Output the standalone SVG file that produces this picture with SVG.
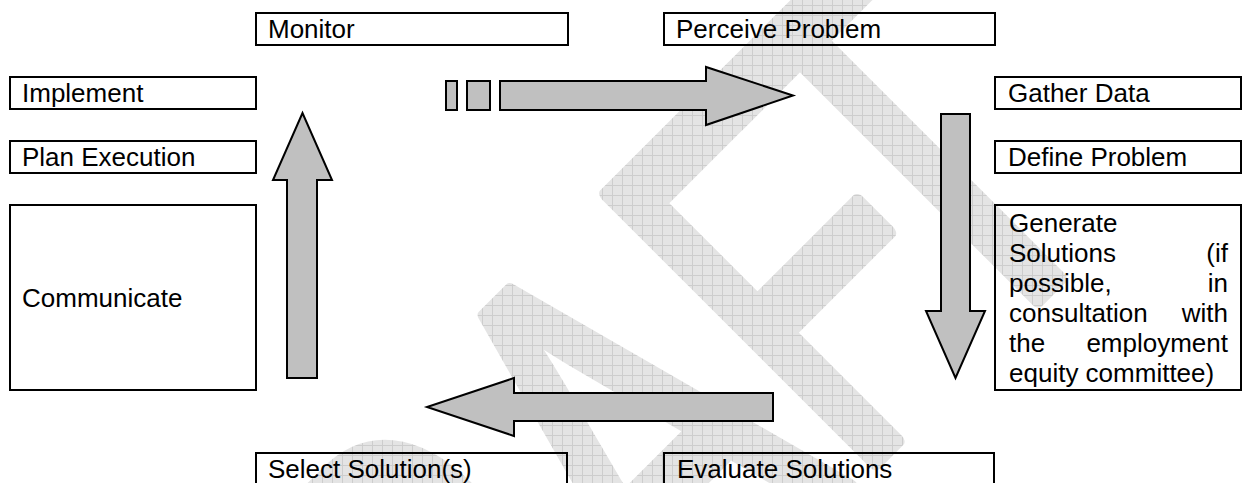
<svg xmlns="http://www.w3.org/2000/svg" width="1243" height="483" viewBox="0 0 1243 483">
  <style>
    .box { fill: none; stroke: #000; stroke-width: 2; }
    .lbl { font-family: "Liberation Sans", Arial, sans-serif; font-size: 26px; fill: #000; }
    .arr { fill: #c0c0c0; stroke: #000; stroke-width: 2; stroke-linejoin: miter; }
    .wm { font-family: "Liberation Sans", Arial, sans-serif; font-size: 550px; fill: url(#grid); stroke: url(#grid); stroke-width: 16; stroke-linejoin: round; }
  </style>
  <defs>
    <pattern id="grid" patternUnits="userSpaceOnUse" width="10" height="10" patternTransform="scale(1.4925,1) rotate(45)">
      <rect width="10" height="10" fill="#e4e4e4"/>
      <path d="M0 0.5H10M0.5 0V10" stroke="#cdcdcd" stroke-width="1" fill="none"/>
    </pattern>
  </defs>
  <rect width="1243" height="483" fill="#fff"/>

  <g id="watermark">
    <text class="wm" transform="translate(302,1035) rotate(-45) scale(0.67,1)">DRAF<tspan dx="-90">T</tspan></text>
  </g>

  <g id="connectors">
    <polygon class="arr" points="287,378 287,180 273,180 302.5,113 332,180 317,180 317,378"/>
    <rect class="arr" x="446" y="81" width="11" height="29"/>
    <rect class="arr" x="467" y="81" width="23" height="29"/>
    <polygon class="arr" points="500,81 706,81 706,67 793,95.5 706,125 706,110 500,110"/>
    <polygon class="arr" points="941,114 970,114 970,311 985,311 955.5,378 926,311 941,311"/>
    <polygon class="arr" points="773,393 514,393 514,378 427,407 514,436 514,421 773,421"/>
  </g>

  <g id="monitor">
    <rect class="box" x="256" y="13" width="312" height="32"/>
    <text class="lbl" x="268" y="38">Monitor</text>
  </g>
  <g id="perceive-problem">
    <rect class="box" x="664" y="13" width="331" height="32"/>
    <text class="lbl" x="676" y="38">Perceive Problem</text>
  </g>
  <g id="implement">
    <rect class="box" x="10" y="77" width="246" height="32"/>
    <text class="lbl" x="22" y="102">Implement</text>
  </g>
  <g id="plan-execution">
    <rect class="box" x="10" y="141" width="246" height="32"/>
    <text class="lbl" x="22" y="166">Plan Execution</text>
  </g>
  <g id="communicate">
    <rect class="box" x="10" y="205" width="246" height="185"/>
    <text class="lbl" x="22" y="307">Communicate</text>
  </g>
  <g id="gather-data">
    <rect class="box" x="995" y="77" width="246" height="32"/>
    <text class="lbl" x="1008" y="102">Gather Data</text>
  </g>
  <g id="define-problem">
    <rect class="box" x="995" y="141" width="246" height="32"/>
    <text class="lbl" x="1008" y="166">Define Problem</text>
  </g>
  <g id="generate-solutions">
    <rect class="box" x="995" y="205" width="246" height="185"/>
    <text class="lbl" x="1009" y="232">Generate</text>
    <text class="lbl" x="1009" y="262">Solutions</text>
    <text class="lbl" x="1228" y="262" text-anchor="end">(if</text>
    <text class="lbl" x="1009" y="292">possible,</text>
    <text class="lbl" x="1228" y="292" text-anchor="end">in</text>
    <text class="lbl" x="1009" y="322">consultation</text>
    <text class="lbl" x="1228" y="322" text-anchor="end">with</text>
    <text class="lbl" x="1009" y="352">the</text>
    <text class="lbl" x="1228" y="352" text-anchor="end">employment</text>
    <text class="lbl" x="1009" y="382">equity committee)</text>
  </g>
  <g id="select-solutions">
    <rect class="box" x="256" y="453" width="311" height="40"/>
    <text class="lbl" x="268" y="478">Select Solution(s)</text>
  </g>
  <g id="evaluate-solutions">
    <rect class="box" x="664" y="453" width="330" height="40"/>
    <text class="lbl" x="677" y="478">Evaluate Solutions</text>
  </g>
</svg>
